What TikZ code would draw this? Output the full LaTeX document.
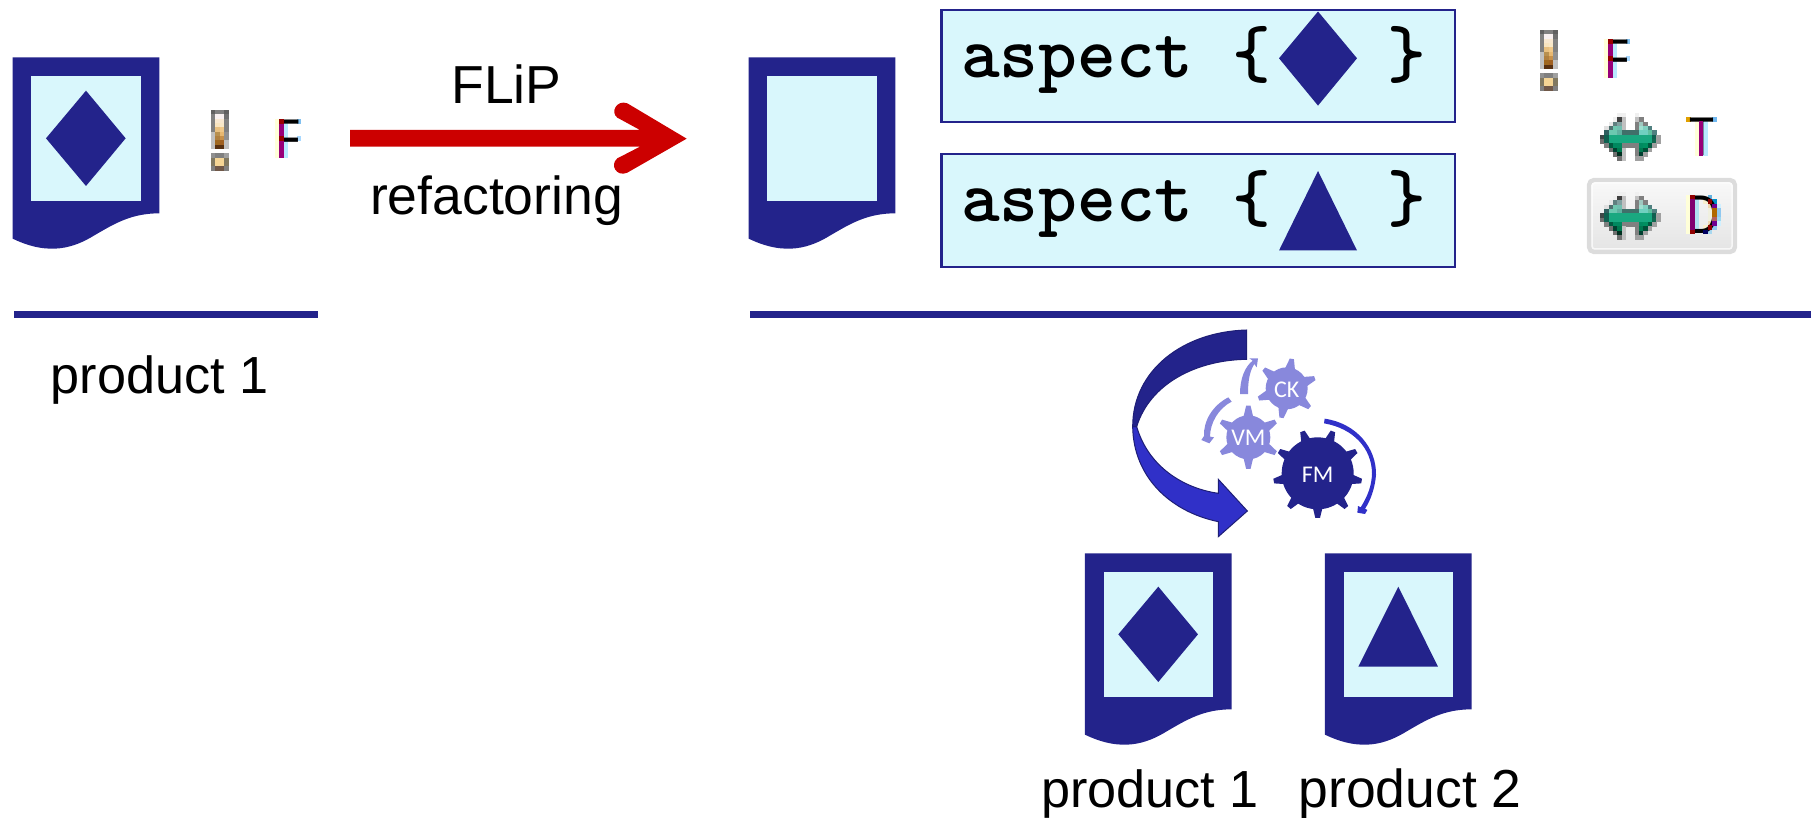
\documentclass[tikz,border=0pt]{standalone}
\usepackage{fontspec}
\setmainfont{Liberation Sans}
\newfontfamily\gearfont{Carlito}
\definecolor{navy}{HTML}{23238B}
\definecolor{pale}{HTML}{D9F7FC}
\definecolor{redar}{HTML}{CC0000}
\definecolor{lilac}{HTML}{8888DC}
\definecolor{bluer}{HTML}{3030C8}
\definecolor{ylw}{HTML}{FFFFD8}
\definecolor{skyf}{HTML}{B8E8FF}
\definecolor{stemc}{HTML}{980078}
\definecolor{btntop}{HTML}{F9F9F9}
\definecolor{btnbot}{HTML}{E4E4E4}
\definecolor{btnedge}{HTML}{DCDCDC}
\newcommand\pxgrid[3]{\foreach \c/\r/\h in {#3}{\definecolor{pxc}{HTML}{\h}\fill[pxc] ({#1+\c*4.33},{#2+\r*4.33}) rectangle +(4.55,4.55);}}
\newcommand\pxarrow[2]{\pxgrid{#1}{#2}{
4/0/F0F0F0,5/0/F0F0F0,8/0/F0F0F0,
3/1/F0F0F0,4/1/404040,5/1/C0C0C0,8/1/C0C0C0,9/1/808080,
2/2/E8E8E8,3/2/608080,4/2/80A0A0,5/2/C0C0C0,8/2/808080,9/2/A0C8C0,10/2/808080,
1/3/E0E0E0,2/3/507070,3/3/70C8B0,4/3/70C0B0,5/3/C0C0C0,8/3/808080,9/3/A0E0D0,10/3/80D0C0,11/3/508080,
1/4/2F5F5F,2/4/6CC8B0,3/4/6CC8B0,4/4/60B0A0,5/4/40706A,6/4/40706A,7/4/40706A,8/4/40706A,9/4/70D0C0,10/4/70D0C0,11/4/60C0A0,12/4/508080,
0/5/404848,1/5/106050,2/5/1AA880,3/5/1AA880,4/5/1AA880,5/5/1AA880,6/5/1AA880,7/5/1AA880,8/5/1AA880,9/5/1AA880,10/5/1AA880,11/5/1AA880,12/5/106050,13/5/A0A0A0,
0/6/707070,1/6/106050,2/6/18A880,3/6/18A880,4/6/18A880,5/6/18A880,6/6/18A880,7/6/18A880,8/6/18A880,9/6/18A880,10/6/18A880,11/6/18A880,12/6/106850,13/6/A0A0A0,
1/7/808080,2/7/005A40,3/7/00885F,4/7/00885F,5/7/808080,6/7/808080,7/7/808080,8/7/808080,9/7/008A60,10/7/009060,11/7/005A40,12/7/A0A0A0,
2/8/707070,3/8/004030,4/8/007A50,5/8/C0C0C0,8/8/808080,9/8/007A50,10/8/005038,11/8/A0A0A0,
3/9/707070,4/9/003020,5/9/C0C0C0,8/9/808080,9/9/004030,10/9/A0A0A0,
4/10/707070,5/10/C0C0C0,8/10/A0A0A0,9/10/A0A0A0}}
\newcommand\pxbang[2]{\pxgrid{#1}{#2}{
0/0/606060,1/0/808080,2/0/808080,3/0/606060,
0/1/808080,1/1/F8F0F0,2/1/F8F0F0,3/1/707070,
0/2/808080,1/2/F8E8D0,2/2/F8E8D0,3/2/808080,
0/3/808080,1/3/F8E4C0,2/3/F8E8C8,3/3/808080,
0/4/808080,1/4/E8C080,2/4/F0C888,3/4/808080,
0/5/C0C0C0,1/5/B89050,2/5/E8B870,3/5/909090,
0/6/C0C0C0,1/6/B08040,2/6/C89048,3/6/909090,
0/7/C0C0C0,1/7/A06820,2/7/A06020,3/7/C0C0C0,
0/8/C0C0C0,1/8/583010,2/8/583010,3/8/C0C0C0,
0/10/909090,1/10/808080,2/10/808080,3/10/A0A0A0,
0/11/807860,1/11/F5D595,2/11/F5D595,3/11/807860,
0/12/807860,1/12/F5D595,2/12/F5D595,3/12/807860,
0/13/808080,1/13/705848,2/13/705848,3/13/808080}}
\newcommand\pxF[3]{%
 \fill[ylw] (#2,#3) rectangle +(4.4,39);
 \fill[skyf] ({#2+8.66},{#3+4.33}) rectangle +(4.4,34.7);
 \pxgrid{#2}{#3}{5/0/80C0F0,5/4/A8D8FF}
 \node[glyph] (#1) at ({#2+1.1},{#3+39}) {\scalebox{.72}[1]{F}};
 \fill[stemc] ({#2+4.33},{#3}) rectangle +(4.4,39);
 \pxgrid{#2}{#3}{1/0/980000,1/4/980000}
}
\newcommand\docicon[2]{\begin{scope}[shift={(#1,#2)},scale=.33333]
 \fill[navy] (38,52) -- (478,52) -- (478,520) .. controls (395,520) and (345,550) .. (285,585) .. controls (225,622) and (150,650) .. (38,596) -- cycle;
 \fill[pale] (94,107) rectangle (422,483);
\end{scope}}
\newcommand\diam[2]{\begin{scope}[shift={(#1,#2)},scale=.33333]
 \fill[navy] (258,152) -- (377,295) -- (258,438) -- (138,295) -- cycle;
\end{scope}}
\newcommand\tri[2]{\begin{scope}[shift={(#1,#2)},scale=.33333]
 \fill[navy] (258,152) -- (377,392) -- (138,392) -- cycle;
\end{scope}}
\tikzset{
 txt/.style={inner sep=0pt,anchor=base,font=\fontsize{53.5}{60}\selectfont},
 prodtxt/.style={inner sep=0pt,anchor=base,font=\fontsize{52.2}{60}\selectfont},
 glyph/.style={inner sep=0pt,anchor=base west,font=\fontsize{54.5}{60}\selectfont},
 aspectbox/.style={draw=navy,fill=pale,line width=2.6pt},
 aspecttext/.style={inner sep=0pt,anchor=base west,font=\ttfamily\bfseries\fontsize{73.8}{80}\selectfont},
 geartext/.style={inner sep=0pt,text=white,font=\gearfont\fontsize{24}{26}\selectfont},
 rulebar/.style={line width=7pt,navy}
}
\begin{document}
\begin{tikzpicture}[x=1pt,y=-1pt]
\useasboundingbox (0,0) rectangle (1811,818);
% documents
\docicon{0}{40}\diam{0}{40}
\docicon{736}{40}
\docicon{1072.3}{536}\diam{1072.3}{536}
\docicon{1312.3}{536}\tri{1312.3}{536}
% aspect boxes
\draw[aspectbox] (941.5,10) rectangle (1455,122);
\draw[aspectbox] (941.5,154) rectangle (1455,267);
\node[aspecttext] (asp1) at (961,77.5) {aspect~\{~~~\}};
\node[aspecttext] (asp2) at (961,221.5) {aspect~\{~~~\}};
\fill[navy] (1318,11.5) -- (1357,58.3) -- (1318,105.6) -- (1279,58.3) -- cycle;
\fill[navy] (1318,171) -- (1357,250.5) -- (1279,250.5) -- cycle;
% red arrow
\begin{scope}[shift={(340,50)},scale=.33333]
\fill[redar] (30,240) -- (900,240) -- (832,203) .. controls (810,187) and (830,148) .. (862,160) -- (1040,266) -- (862,368) .. controls (830,382) and (808,345) .. (832,325) -- (900,290) -- (30,290) -- cycle;
\end{scope}
\node[txt] (flip) at (506.5,103.3) {FLiP};
\node[txt] (refac) at (496.5,215) {refactoring};
% rules
\draw[rulebar] (14,314) -- (318,314);
\draw[rulebar] (750,314) -- (1811,314);
\node[prodtxt] (p0) at (159.5,393) {product 1};
\node[prodtxt] (p1) at (1150,807.7) {product 1};
\node[txt] (p2) at (1410,807.7) {product 2};
% toolbar icons
\pxbang{211}{110}
\pxF{f1}{275}{119}
\pxbang{1540}{30}
\pxF{f2}{1604}{39}
\pxarrow{1600}{113}
% T
\fill[ylw] (1694.7,121.3) rectangle +(4.4,34.7);
\fill[skyf] (1703.3,121.3) rectangle +(4.4,34.7);
\pxgrid{1686}{117}{0/0/E0A000,6/0/70B8F0}
\node[glyph] (t1) at (1689,156) {\scalebox{.75}[1]{T}};
\fill[stemc] (1699,121.3) rectangle +(4.4,34.7);
% button
\shade[top color=btntop,bottom color=btnbot,draw=btnedge,line width=4.3pt,rounded corners=5pt] (1589,180) rectangle (1735,252);
\draw[white,line width=1.5pt,rounded corners=3pt,opacity=.7] (1592,183) rectangle (1732,249);
\pxarrow{1600}{191.7}
% D
\fill[ylw] (1686,195) rectangle +(4.4,39);
\pxgrid{1686}{195}{2/1/B0E0F0,2/2/B0E0F0,2/3/B0E0F0,2/4/B0E0F0,2/5/B0E0F0,2/6/B0E0F0,2/7/B0E0F0,
4/1/F8F0D0,5/2/F0D8B0,5/3/F0F0E0,5/4/F0F0E0,5/5/F0F0E0,5/6/F0D8B0,4/7/F8F0D0,
5/0/60B0E0,6/1/0090C8,7/2/D0F0FF,7/3/90C8F0,7/4/90C8F0,7/5/A0D8F0,7/6/D0F0FF,6/7/90C8F0,5/8/A8D8F0}
\node[glyph] (d1) at (1687,234) {\scalebox{.8}[1]{D}};
\pxgrid{1686}{195}{1/0/900000,1/1/800070,1/2/800070,1/3/800070,1/4/800070,1/5/800070,1/6/800070,1/7/800070,1/8/900000,
5/1/900000,6/2/700090,6/3/B06800,6/4/B06800,6/5/B06060,6/6/700090,5/7/900000,4/8/000060}
% cycle graphic, in the coordinates of a 3x crop
\begin{scope}[shift={(1120,320)},scale=.33333]
\filldraw[fill=bluer,draw=navy!85!black,line width=1pt] (38,320) .. controls (40,470) and (150,575) .. (295,605) -- (295,650) -- (382,573) -- (295,478) -- (295,520) .. controls (190,505) and (85,440) .. (50,320) -- cycle;
\filldraw[fill=navy,draw=navy!85!black,line width=1pt] (380,30) .. controls (190,35) and (38,150) .. (38,320) -- (50,320) .. controls (90,190) and (230,120) .. (380,118) -- cycle;
% small arrows
\fill[lilac] (360,222) .. controls (360,175) and (375,140) .. (398,122) -- (388,115) -- (414,115) -- (410,142) -- (403,132) .. controls (388,155) and (384,185) .. (384,222) -- cycle;
\fill[lilac] (325,232) .. controls (280,255) and (250,300) .. (252,348) -- (244,360) -- (268,370) -- (282,352) -- (270,350) .. controls (270,310) and (295,265) .. (335,245) -- cycle;
\fill[bluer] (614,296) .. controls (710,310) and (770,385) .. (768,465) .. controls (765,505) and (750,545) .. (735,566) -- (742,570) -- (735,582) -- (712,578) -- (714,558) -- (722,562) .. controls (745,525) and (755,495) .. (756,460) .. controls (755,385) and (700,325) .. (612,310) -- cycle;
% CK gear
\begin{scope}[shift={(500,205)}]
\fill[lilac] (0,0) circle (63);
\foreach \a in {100,40,-20,-80,-140,160}{\fill[lilac] (\a-17:56) -- (\a-4:90) -- (\a+4:90) -- (\a+17:56) -- cycle;}
\node[geartext] (ck) at (0,3) {CK};
\end{scope}
% VM gear
\begin{scope}[shift={(385,352)}]
\fill[lilac] (0,0) circle (66);
\foreach \a in {90,30,-30,-90,-150,150}{\fill[lilac] (\a-16:58) -- (\a-4:95) -- (\a+4:95) -- (\a+16:58) -- cycle;}
\node[geartext] (vm) at (0,0) {VM};
\end{scope}
% FM gear
\begin{scope}[shift={(593,460)}]
\fill[navy] (0,0) circle (108);
\foreach \a in {90,50,10,-30,-70,-110,-150,170,130}{\fill[navy] (\a-9:100) -- (\a-3:134) -- (\a+3:134) -- (\a+9:100) -- cycle;}
\node[geartext] (fm) at (0,3) {FM};
\end{scope}
\end{scope}
\end{tikzpicture}
\end{document}
